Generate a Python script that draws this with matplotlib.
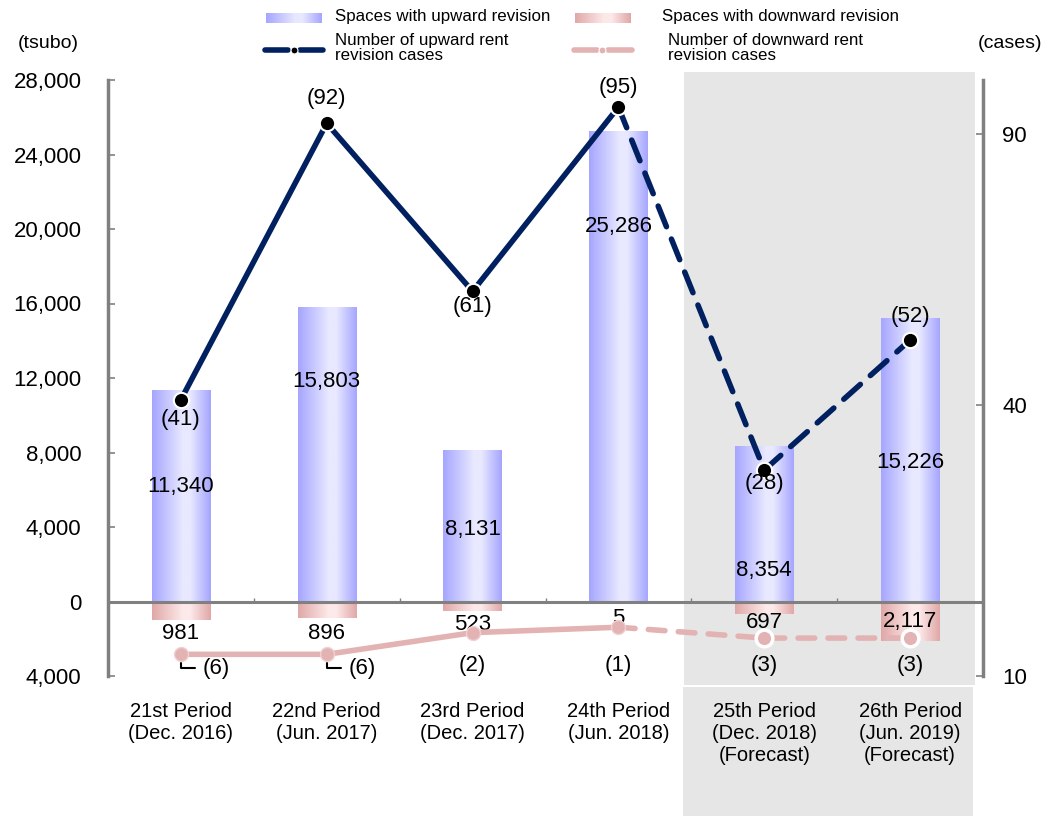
import numpy as np
import matplotlib
matplotlib.use("Agg")
from matplotlib import pyplot as plt
from matplotlib.ticker import FuncFormatter, FixedLocator
from matplotlib.patches import Rectangle

plt.rcParams["font.family"] = ["Liberation Sans", "DejaVu Sans"]

# Data
periods = ["21st Period\n(Dec. 2016)", "22nd Period\n(Jun. 2017)",
           "23rd Period\n(Dec. 2017)", "24th Period\n(Jun. 2018)",
           "25th Period\n(Dec. 2018)\n(Forecast)",
           "26th Period\n(Jun. 2019)\n(Forecast)"]
up_space = [11340, 15803, 8131, 25286, 8354, 15226]
down_space = [981, 896, 523, 5, 697, 2117]
up_cases = [41, 92, 61, 95, 28, 52]
down_cases = [6, 6, 2, 1, 3, 3]
n_actual = 4  # periods 21-24 are actual, the rest are forecasts

# label placement (tsubo for bar values, cases for counts)
up_space_label_y = [6200, 11790, 3840, 20160, 1640, 7440]
up_case_offset = [-20, 25, -15, 20, -13, 24]   # pixels
down_space_label_y = [-1700, -1700, -1250, -900, -1150, -1100]
down_case_label_y = [-9.5, -9.5, -8, -8, -8, -8]

NAVY = "#002060"
PINK = "#e3b3b3"
GRAY = "#808080"

fig = plt.figure(figsize=(10.45, 8.16), dpi=100)

# background panel for forecast periods (pixel coordinates)
bg = fig.add_axes([0, 0, 1, 1], zorder=-1)
bg.set_xlim(0, 1045)
bg.set_ylim(816, 0)
bg.axis("off")
bg.add_patch(Rectangle((684, 72), 291, 613, color="#e6e6e6", lw=0))
bg.add_patch(Rectangle((683, 687), 290, 129, color="#e6e6e6", lw=0))

ax = fig.add_axes([108 / 1045, 1 - 676 / 816, 875 / 1045, 596 / 816])
ax.patch.set_visible(False)
ax2 = ax.twinx()


def gradient_rgb(edge, center, n=64):
    t = np.linspace(0, 1, n)
    light = np.where(t < 0.6, 1 - np.abs(t - 0.6) / 0.6,
                     1 - np.abs(t - 0.6) / 0.4)
    light = np.clip(light * 1.15, 0, 1)
    edge = np.array(matplotlib.colors.to_rgb(edge))
    center = np.array(matplotlib.colors.to_rgb(center))
    rgb = edge[None, :] + light[:, None] * (center - edge)[None, :]
    return rgb[None, :, :]


blue_grad = gradient_rgb("#a6a6ff", "#e8e8ff")
pink_grad = gradient_rgb("#e0a8a8", "#fde9e9")

x = np.arange(len(periods))
w = 0.4
for xi, hu, hd in zip(x, up_space, down_space):
    ax.imshow(blue_grad, extent=[xi - w / 2, xi + w / 2, 0, hu],
              aspect="auto", interpolation="bilinear", zorder=1)
    ax.imshow(pink_grad, extent=[xi - w / 2, xi + w / 2, -hd, 0],
              aspect="auto", interpolation="bilinear", zorder=1)

ax.set_xlim(-0.5, 5.5)
ax.set_ylim(-4000, 28000)
ax2.set_ylim(-10, 100)

# zero line with small separators between periods
ax.axhline(0, color=GRAY, lw=2.2, zorder=2)
ax.vlines(x[:-1] + 0.5, 0, 180, color=GRAY, lw=1, zorder=2)

# bar value labels
for xi, v, ly in zip(x, up_space, up_space_label_y):
    ax.text(xi, ly, f"{v:,}", ha="center", va="center", fontsize=16, zorder=3)
for xi, v, ly in zip(x, down_space, down_space_label_y):
    ax.text(xi, ly, f"{v:,}", ha="center", va="center", fontsize=16, zorder=3)

# upward cases line (solid for actual, dashed for forecast)
up = np.array(up_cases)
dn = -np.array(down_cases)
k = n_actual - 1
ax2.plot(x[:k + 1], up[:k + 1], color=NAVY, lw=4, solid_capstyle="round", zorder=3)
ax2.plot(x[k:], up[k:], color=NAVY, lw=4, dashes=(4, 2.4),
         dash_capstyle="round", zorder=3)
ax2.plot(x, up, ls="none", marker="o", ms=11, mfc="black", mec="white",
         mew=1.5, zorder=4)

# downward cases line
ax2.plot(x[:k + 1], dn[:k + 1], color=PINK, lw=4, solid_capstyle="round", zorder=3)
ax2.plot(x[k:], dn[k:], color=PINK, lw=4, dashes=(3, 2.4),
         dash_capstyle="round", zorder=3)
ax2.plot(x[:n_actual], dn[:n_actual], ls="none", marker="o", ms=10,
         mfc=PINK, mec="#f0d0d0", mew=1, zorder=4)
ax2.plot(x[n_actual:], dn[n_actual:], ls="none", marker="o", ms=12,
         mfc=PINK, mec="white", mew=2.5, zorder=4)

for xi, v, off in zip(x, up_cases, up_case_offset):
    ax2.annotate(f"({v})", (xi, v), xytext=(0, off), textcoords="offset pixels",
                 ha="center", va="center", fontsize=16, zorder=5)

for xi, v, ly in zip(x, down_cases, down_case_label_y):
    if v == 6:
        ax2.annotate(f"({v})", (xi, -v), xytext=(xi + 0.24, -v - 2.6),
                     ha="center", va="center", fontsize=16,
                     arrowprops=dict(arrowstyle="-", color="black", lw=1.5,
                                     shrinkA=3, shrinkB=6,
                                     connectionstyle="angle,angleA=0,angleB=90,rad=0"))
    else:
        ax2.text(xi, ly, f"({v})", ha="center", va="center", fontsize=16)

# axes styling
for a in (ax, ax2):
    for s in ("top", "bottom"):
        a.spines[s].set_visible(False)
ax.spines["left"].set_color(GRAY)
ax.spines["left"].set_linewidth(2.5)
ax.spines["right"].set_visible(False)
ax2.spines["left"].set_visible(False)
ax2.spines["right"].set_color(GRAY)
ax2.spines["right"].set_linewidth(2.5)

ax.yaxis.set_major_locator(FixedLocator(np.arange(-4000, 28001, 4000)))
ax.yaxis.set_major_formatter(FuncFormatter(lambda v, p: f"{abs(v):,.0f}"))
ax.tick_params(axis="y", direction="in", length=5, width=1.2, color=GRAY,
               labelsize=16, pad=19)
ax2.yaxis.set_major_locator(FixedLocator([-10, 40, 90]))
ax2.yaxis.set_major_formatter(FuncFormatter(lambda v, p: f"{abs(v):.0f}"))
ax2.tick_params(axis="y", direction="in", length=5, width=1.2, color=GRAY,
                labelsize=16, pad=14)

ax.set_xticks(x)
ax.set_xticklabels(periods, fontsize=14.5, linespacing=1.2, va="top")
ax.tick_params(axis="x", length=0, pad=19)

fig.text(48 / 1045, 1 - 44 / 816, "(tsubo)", ha="center", va="center", fontsize=14)
fig.text(1010 / 1045, 1 - 44 / 816, "(cases)", ha="center", va="center", fontsize=14)

# legend drawn in pixel coordinates
lg = fig.add_axes([0, 0, 1, 1], zorder=5)
lg.imshow(blue_grad, extent=[266, 322, 23, 13], aspect="auto", interpolation="bilinear")
lg.imshow(pink_grad, extent=[575, 631, 23, 13], aspect="auto", interpolation="bilinear")
lg.set_xlim(0, 1045)
lg.set_ylim(816, 0)
lg.axis("off")
lg.plot([265, 288], [50, 50], color=NAVY, lw=4, solid_capstyle="round")
lg.plot([300, 323], [50, 50], color=NAVY, lw=4, solid_capstyle="round")
lg.plot([294], [50], marker="o", ms=5, mfc="black", mec="white", mew=0.8)
lg.plot([574, 597], [50, 50], color=PINK, lw=4, solid_capstyle="round")
lg.plot([608, 632], [50, 50], color=PINK, lw=4, solid_capstyle="round")
lg.plot([602], [50], marker="o", ms=5, mfc=PINK, mec="white", mew=0.8)
lg.text(335, 16, "Spaces with upward revision", ha="left", va="center", fontsize=12.2)
lg.text(662, 16, "Spaces with downward revision", ha="left", va="center", fontsize=12.2)
lg.text(335, 48, "Number of upward rent\nrevision cases", ha="left", va="center",
        fontsize=12.2, linespacing=1.0)
lg.text(668, 48, "Number of downward rent\nrevision cases", ha="left", va="center",
        fontsize=12.2, linespacing=1.0)

fig.savefig("out.png", dpi=100)
